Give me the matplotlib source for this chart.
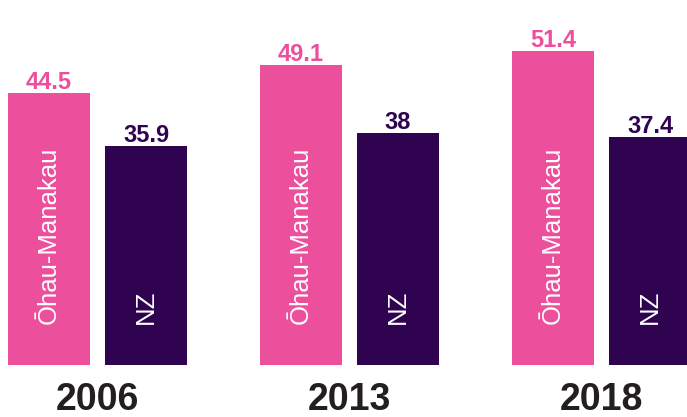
import matplotlib.pyplot as plt
import numpy as np

years = ["2006", "2013", "2018"]
local_name = "Ōhau-Manakau"
local_values = [44.5, 49.1, 51.4]
nz_name = "NZ"
nz_values = [35.9, 38, 37.4]

PINK = "#EC4F9B"
PURPLE = "#2F0350"
DARK = "#231F20"

plt.rcParams['font.family'] = ['Liberation Sans', 'DejaVu Sans']

fig = plt.figure(figsize=(6.87, 4.17), dpi=100)
ax = fig.add_axes([0, 0.1247, 1, 0.8753])

x = np.arange(len(years))
width = 0.3254
off = 0.1925

local_bars = ax.bar(x - off, local_values, width, color=PINK)
nz_bars = ax.bar(x + off, nz_values, width, color=PURPLE)

for bars, vals, col, name in [(local_bars, local_values, PINK, local_name),
                              (nz_bars, nz_values, PURPLE, nz_name)]:
    for b, v in zip(bars, vals):
        cx = b.get_x() + b.get_width() / 2
        ax.annotate(f"{v:g}", (cx, v), xytext=(0, 3), textcoords="offset points",
                    ha="center", va="baseline", fontsize=17, fontweight="bold", color=col)
        ax.text(cx, 6.7, name, rotation=90, ha="center", va="bottom",
                fontsize=18.5, color="white")

# year labels under each group
for xi, yr in zip(x, years):
    ax.text(xi, -0.1235, yr, transform=ax.get_xaxis_transform(), ha="center",
            va="baseline", fontsize=27, fontweight="bold", color=DARK)

ax.set_xlim(-0.3869, 2.3393)
ax.set_ylim(0, 59.8)
ax.axis("off")

fig.savefig("out.png", dpi=100)
